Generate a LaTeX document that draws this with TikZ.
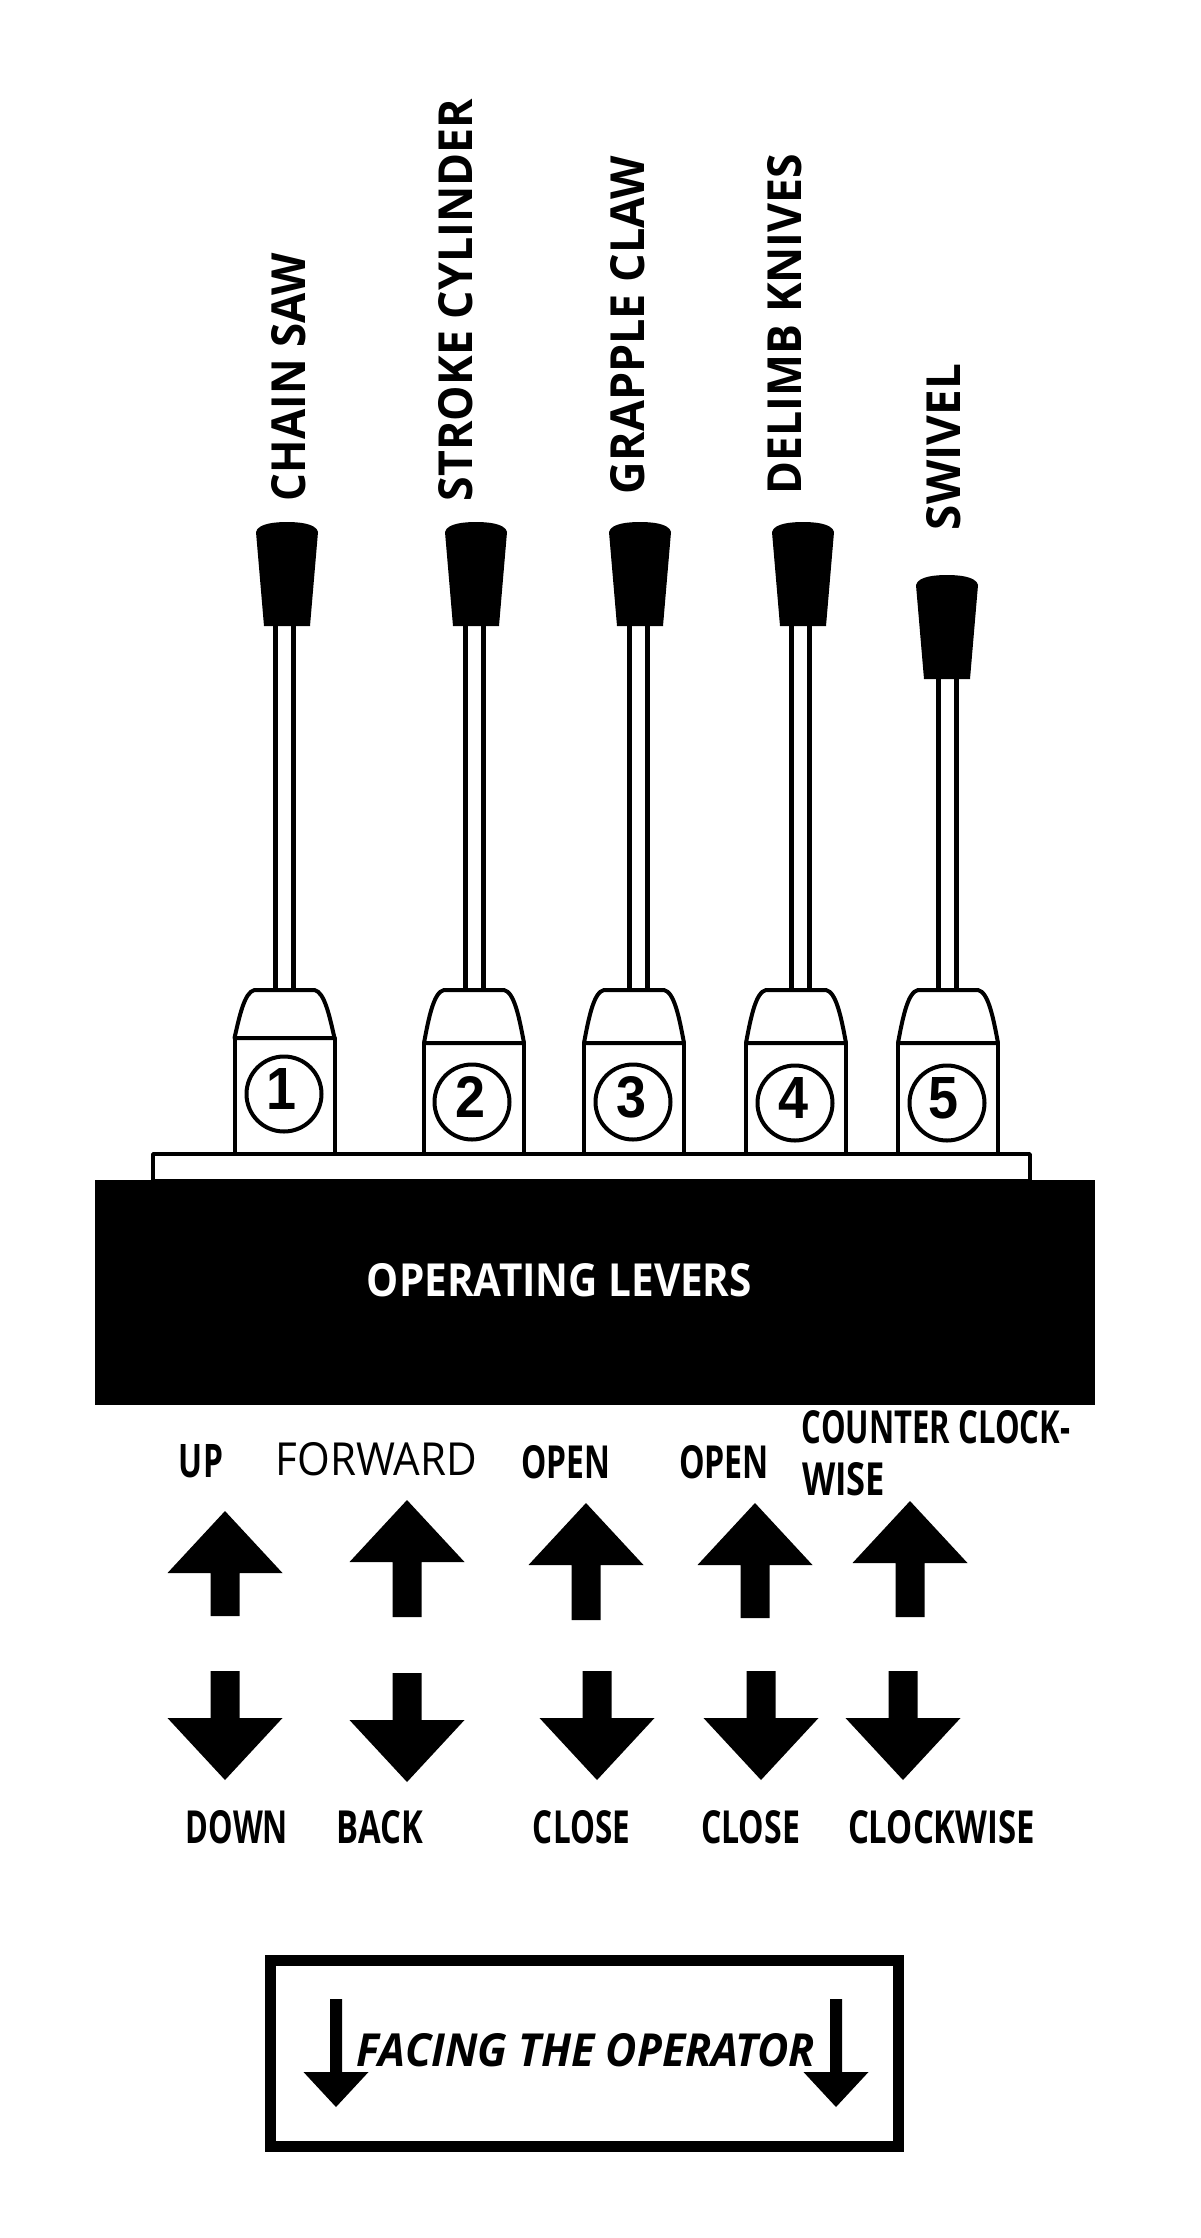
\documentclass[tikz,border=0pt]{standalone}
\usepackage{graphicx}
\usepackage{fontspec}
\setmainfont{Open Sans}
\newfontfamily\digitfont{Liberation Sans}
\newcommand{\fitbox}[3]{\resizebox{#1pt}{#2pt}{#3}}
\tikzset{
  lab/.style={inner sep=0pt,outer sep=0pt,font=\bfseries,text=black},
  outl/.style={draw=black,line width=4pt,fill=white,line join=round},
  solid black/.style={fill=black,draw=none},
}
% shaft: shaft x, knob centre x, knob top y
\newcommand{\shaft}[3]{%
  \draw[line width=5pt] (#1-9,#3+104) -- (#1-9,990) (#1+9,#3+104) -- (#1+9,990);
  \fill[black] (#2-31,#3+10) .. controls (#2-29,#3+1) and (#2-10,#3) .. (#2,#3)
     .. controls (#2+10,#3) and (#2+29,#3+1) .. (#2+31,#3+10)
     -- (#2+23,#3+104) -- (#2-23,#3+104) -- cycle;
}
% base: name, base centre x, shoulder y, circle x, circle y, digit x, number
\newcommand{\leverbase}[7]{%
  \draw[outl] (#2-50,#3) -- (#2-50,1154) -- (#2+50,1154) -- (#2+50,#3) -- cycle;
  \draw[outl] (#2-50,#3) .. controls (#2-45,1016) and (#2-40,992) .. (#2-30,990)
     -- (#2+30,990) .. controls (#2+40,992) and (#2+45,1016) .. (#2+50,#3) -- cycle;
  \node[draw=black,line width=4pt,circle,minimum size=75pt,inner sep=0pt] (circ#1) at (#4,#5) {};
  \node[inner sep=0pt] (num#1) at (#6,#5-5) {\fitbox{30}{41}{\digitfont\bfseries #7}};
}
\newcommand{\uparr}[4]{% name, cx, tip, shaft bottom
  \path[solid black] (#2,#3) -- (#2+57.5,#3+62) -- (#2+14.5,#3+62) -- (#2+14.5,#4)
    -- (#2-14.5,#4) -- (#2-14.5,#3+62) -- (#2-57.5,#3+62) -- cycle;
  \coordinate (#1) at (#2,#3);
}
\newcommand{\downarr}[3]{% name, cx, top
  \path[solid black] (#2-14.5,#3) -- (#2+14.5,#3) -- (#2+14.5,#3+47) -- (#2+57.5,#3+47)
    -- (#2,#3+109) -- (#2-57.5,#3+47) -- (#2-14.5,#3+47) -- cycle;
  \coordinate (#1) at (#2,#3);
}
\newcommand{\facearr}[2]{% name, cx
  \path[solid black] (#2-6,1999) -- (#2+6,1999) -- (#2+6,2072) -- (#2+32.5,2072)
    -- (#2,2107) -- (#2-32.5,2072) -- (#2-6,2072) -- cycle;
  \coordinate (#1) at (#2,1999);
}
\begin{document}
\begin{tikzpicture}[x=1pt,y=-1pt]
\useasboundingbox (0,0) rectangle (1200,2238);
\fill[white] (0,0) rectangle (1200,2238);

% plate and console
\draw[outl,line width=3.5pt] (153,1154) rectangle (1030,1181);
\fill[black] (95,1180) rectangle (1095,1405);
\node[lab,text=white] (title) at (559.5,1280) {\fitbox{385}{33}{OPERATING LEVERS}};

% levers
\shaft{284}{287}{522}
\shaft{474}{476}{522}
\shaft{638}{640}{522}
\shaft{800}{803}{522}
\shaft{947}{947}{575}
\leverbase{1}{284.5}{1038}{284}{1094}{281}{1}
\leverbase{2}{474}{1043}{472}{1102}{470}{2}
\leverbase{3}{634}{1043}{633}{1102}{631}{3}
\leverbase{4}{796}{1043}{795}{1103}{793}{4}
\leverbase{5}{948}{1043}{947}{1103}{943}{5}

% lever names
\node[lab,rotate=90] (n1) at (289,377) {\fitbox{248}{34}{CHAIN SAW}};
\node[lab,rotate=90] (n2) at (456,300) {\fitbox{402}{34}{STROKE CYLINDER}};
\node[lab,rotate=90] (n3) at (628,325) {\fitbox{338}{34}{GRAPPLE CLAW}};
\node[lab,rotate=90] (n4) at (785,324) {\fitbox{340}{34}{DELIMB KNIVES}};
\node[lab,rotate=90] (n5) at (944,447) {\fitbox{166}{34}{SWIVEL}};

% upper labels
\node[lab] (u1) at (201,1461.5) {\fitbox{44}{33}{UP}};
\node[inner sep=0pt,font=\normalfont] (u2) at (376.5,1459.5) {\fitbox{201}{33}{FORWARD}};
\node[lab] (u3) at (565.5,1462) {\fitbox{89}{33}{OPEN}};
\node[lab] (u4) at (724,1462) {\fitbox{90}{33}{OPEN}};
\node[lab] (u5a) at (936,1427) {\fitbox{268}{33}{COUNTER CLOCK-}};
\node[lab] (u5b) at (843.5,1479) {\fitbox{83}{33}{WISE}};

% arrows
\uparr{a1}{225}{1511}{1616}
\uparr{a2}{407}{1500}{1617}
\uparr{a3}{586}{1503}{1620}
\uparr{a4}{755}{1503}{1618}
\uparr{a5}{910}{1501}{1617}
\downarr{b1}{225}{1671}
\downarr{b2}{407}{1673}
\downarr{b3}{597}{1671}
\downarr{b4}{761}{1671}
\downarr{b5}{903}{1671}

% lower labels
\node[lab] (d1) at (237,1827) {\fitbox{102}{33}{DOWN}};
\node[lab] (d2) at (380,1827) {\fitbox{86}{33}{BACK}};
\node[lab] (d3) at (581.5,1827) {\fitbox{97}{33}{CLOSE}};
\node[lab] (d4) at (750.5,1827) {\fitbox{99}{33}{CLOSE}};
\node[lab] (d5) at (941.5,1827) {\fitbox{187}{33}{CLOCKWISE}};

% facing the operator panel
\draw[line width=11pt,line join=miter] (270.5,1960.5) rectangle (898.5,2146);
\facearr{f1}{336}
\facearr{f2}{836}
\node[lab,font=\bfseries\itshape] (face) at (586,2050.5) {\fitbox{458}{33}{FACING THE OPERATOR}};
\end{tikzpicture}
\end{document}
